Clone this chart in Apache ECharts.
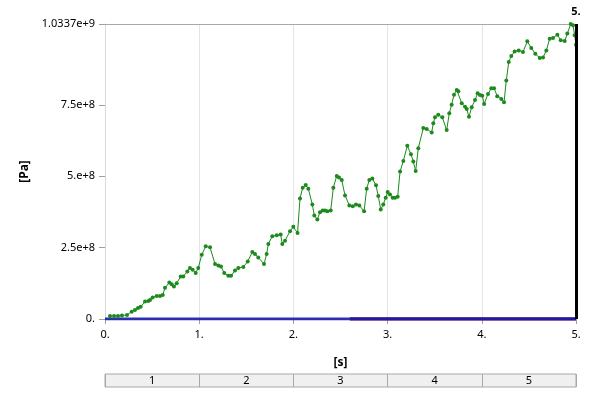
<!DOCTYPE html>
<html>
<head>
<meta charset="utf-8">
<script src="https://cdn.jsdelivr.net/npm/echarts@6/dist/echarts.min.js"></script>
<style>
html,body{margin:0;padding:0;background:#fff;}
#chart{width:600px;height:400px;}
</style>
</head>
<body>
<div id="chart"></div>
<script>
// Time [s] and pressure [Pa] of the green (maximum) curve
var greenTimes = [0.053,0.096,0.138,0.180,0.234,0.283,0.318,0.350,0.379,0.425,0.460,0.478,0.506,0.549,0.584,0.613,0.637,0.683,0.708,0.732,0.761,0.804,0.831,0.874,0.902,0.931,0.963,0.990,1.027,1.069,1.115,1.168,1.203,1.231,1.266,1.309,1.338,1.380,1.415,1.468,1.515,1.564,1.592,1.627,1.688,1.716,1.734,1.776,1.823,1.865,1.882,1.911,1.964,1.999,2.044,2.070,2.099,2.131,2.158,2.201,2.222,2.254,2.282,2.311,2.335,2.360,2.396,2.424,2.460,2.484,2.513,2.548,2.594,2.630,2.665,2.700,2.750,2.778,2.806,2.838,2.877,2.901,2.927,2.954,2.980,3.001,3.025,3.054,3.079,3.107,3.132,3.167,3.209,3.248,3.273,3.298,3.326,3.379,3.415,3.468,3.485,3.503,3.538,3.581,3.627,3.655,3.680,3.705,3.734,3.751,3.787,3.822,3.840,3.864,3.893,3.928,3.956,3.981,4.005,4.025,4.066,4.101,4.130,4.164,4.207,4.236,4.260,4.286,4.313,4.349,4.392,4.437,4.483,4.525,4.568,4.615,4.650,4.685,4.721,4.756,4.802,4.838,4.880,4.908,4.944,4.968,4.986,5.000];
var greenValues = [1.06e7,1.06e7,1.06e7,1.23e7,1.41e7,2.57e7,3.17e7,3.87e7,4.33e7,6.09e7,6.34e7,6.69e7,7.50e7,8.10e7,8.10e7,8.45e7,1.092e8,1.278e8,1.222e8,1.137e8,1.257e8,1.489e8,1.489e8,1.665e8,1.785e8,1.725e8,1.609e8,1.785e8,2.253e8,2.546e8,2.510e8,1.926e8,1.877e8,1.842e8,1.609e8,1.514e8,1.514e8,1.701e8,1.785e8,1.820e8,2.018e8,2.348e8,2.278e8,2.158e8,1.926e8,2.278e8,2.630e8,2.898e8,2.933e8,2.958e8,2.630e8,2.746e8,3.074e8,3.229e8,3.010e8,4.225e8,4.602e8,4.694e8,4.567e8,4.014e8,3.627e8,3.486e8,3.743e8,3.803e8,3.803e8,3.778e8,3.803e8,4.602e8,5.010e8,4.954e8,4.870e8,4.331e8,3.979e8,3.954e8,4.014e8,3.979e8,3.778e8,4.567e8,4.870e8,4.919e8,4.683e8,4.306e8,3.838e8,4.014e8,4.250e8,4.447e8,4.366e8,4.250e8,4.250e8,4.285e8,5.165e8,5.539e8,6.067e8,5.775e8,5.517e8,5.186e8,5.986e8,6.690e8,6.655e8,6.538e8,6.855e8,7.067e8,7.158e8,7.067e8,6.619e8,7.208e8,7.510e8,7.862e8,8.028e8,7.982e8,7.560e8,7.440e8,7.359e8,7.088e8,7.419e8,7.676e8,7.912e8,7.852e8,7.827e8,7.535e8,7.887e8,8.088e8,8.088e8,7.806e8,7.711e8,7.595e8,8.355e8,9.003e8,9.214e8,9.377e8,9.412e8,9.355e8,9.729e8,9.496e8,9.295e8,9.144e8,9.165e8,9.412e8,9.824e8,9.848e8,9.964e8,9.764e8,9.743e8,1.0000e9,1.0337e9,1.0292e9,9.940e8,9.612e8];
// Blue (minimum) curve
var blueTimes = [0,0.1,0.2,0.3,0.4,0.5,0.6,0.7,0.8,0.9,1.0,1.1,1.2,1.3,1.4,1.5,1.6,1.7,1.8,1.9,2.0,2.1,2.2,2.3,2.4,2.5,2.6,2.7,2.8,2.9,3.0,3.1,3.2,3.3,3.4,3.5,3.6,3.7,3.8,3.9,4.0,4.1,4.2,4.3,4.4,4.5,4.6,4.7,4.8,4.9,5.0];
var blueValues = [0,0,0,0,0,0,0,0,0,0,0,0,0,0,0,0,0,0,0,0,0,0,0,0,0,0,0,0,0,0,0,0,0,0,0,0,0,0,0,0,0,0,0,0,0,0,0,0,0,0,0];
// Dark red curve (visible under the blue one from ~2.6 s)
var redTimes = [2.6,3.0,3.5,4.0,4.5,5.0];
var redValues = [0,0,0,0,0,0];
// Axis ticks
var yTicks = [0, 2.5e8, 5e8, 7.5e8, 1.0337e9];
var yTickLabels = ['0.', '2.5e+8', '5.e+8', '7.5e+8', '1.0337e+9'];
var xTickLabels = ['0.', '1.', '2.', '3.', '4.', '5.'];
var bandCategories = ['1', '2', '3', '4', '5'];
var markerTime = 5;
var markerLabel = '5.';

function pairs(xs, ys) { return xs.map(function (x, i) { return [x, ys[i]]; }); }

var FONT = 'Noto Sans';
var chart = echarts.init(document.getElementById('chart'), null, {renderer: 'canvas'});
chart.setOption({
  animation: false,
  backgroundColor: '#ffffff',
  textStyle: {fontFamily: FONT},
  grid: [
    {left: 105, right: 24, top: 24, bottom: 81},
    {left: 105, right: 24, top: 374, height: 13, show: true, backgroundColor: '#f0f0f0', borderColor: '#a8a8a8', borderWidth: 1}
  ],
  xAxis: [
    {
      type: 'value', gridIndex: 0, min: 0, max: 5, interval: 1,
      name: '[s]', nameLocation: 'middle', nameGap: 38,
      nameTextStyle: {fontFamily: FONT, fontSize: 12, fontWeight: 'bold', color: '#000'},
      axisLine: {show: true, lineStyle: {color: '#d8d8d8'}},
      axisTick: {show: true, length: 5, lineStyle: {color: '#a0a0a0'}},
      axisLabel: {margin: 10, fontSize: 11, color: '#000', fontFamily: FONT,
        formatter: function (v) { return xTickLabels[Math.round(v)]; }},
      splitLine: {show: true, lineStyle: {color: '#e4e4e4', width: 1}}
    },
    {
      type: 'value', gridIndex: 0, min: 0, max: 5, position: 'top',
      axisLine: {show: true, onZero: false, lineStyle: {color: '#a8a8a8'}},
      axisTick: {show: false}, axisLabel: {show: false}, splitLine: {show: false}
    },
    {
      type: 'category', gridIndex: 1, data: bandCategories, position: 'bottom',
      axisLine: {show: false}, axisTick: {show: false},
      axisLabel: {inside: true, margin: 1, fontSize: 11, color: '#000', fontFamily: FONT},
      splitLine: {show: true, interval: 0, lineStyle: {color: '#a8a8a8'}}
    }
  ],
  yAxis: [
    {
      type: 'value', gridIndex: 0, min: 0, max: 1.0337e9,
      name: '[Pa]', nameLocation: 'middle', nameGap: 70, nameRotate: 90,
      nameTextStyle: {fontFamily: FONT, fontSize: 12, fontWeight: 'bold', color: '#000'},
      axisLine: {show: true, lineStyle: {color: '#d8d8d8'}},
      axisTick: {show: true, length: 6, lineStyle: {color: '#a0a0a0'}, customValues: yTicks},
      axisLabel: {margin: 10, fontSize: 11, color: '#000', fontFamily: FONT, customValues: yTicks,
        formatter: function (v) { var i = yTicks.indexOf(v); return i >= 0 ? yTickLabels[i] : ''; }},
      splitLine: {show: false}
    },
    {type: 'value', gridIndex: 1, show: false}
  ],
  series: [
    {
      type: 'line', xAxisIndex: 0, yAxisIndex: 0, data: pairs(redTimes, redValues),
      showSymbol: false, lineStyle: {color: '#6a1a5e', width: 3.5}, z: 2, silent: true
    },
    {
      type: 'line', xAxisIndex: 0, yAxisIndex: 0, data: pairs(blueTimes, blueValues),
      showSymbol: false, lineStyle: {color: '#1a1aa8', width: 3, opacity: 0.9}, z: 3, silent: true
    },
    {
      type: 'line', xAxisIndex: 0, yAxisIndex: 0, data: pairs(greenTimes, greenValues),
      symbol: 'circle', symbolSize: 4, showSymbol: true,
      itemStyle: {color: '#1c8a1c'}, lineStyle: {color: '#1c8a1c', width: 1}, z: 4, silent: true,
      markLine: {
        silent: true, symbol: ['none', 'none'],
        lineStyle: {color: '#000', width: 3, type: 'solid'},
        label: {show: true, position: 'end', distance: 7, formatter: markerLabel,
          color: '#000', fontWeight: 'bold', fontSize: 11, fontFamily: FONT},
        data: [{xAxis: markerTime}]
      }
    }
  ]
});
</script>
</body>
</html>
